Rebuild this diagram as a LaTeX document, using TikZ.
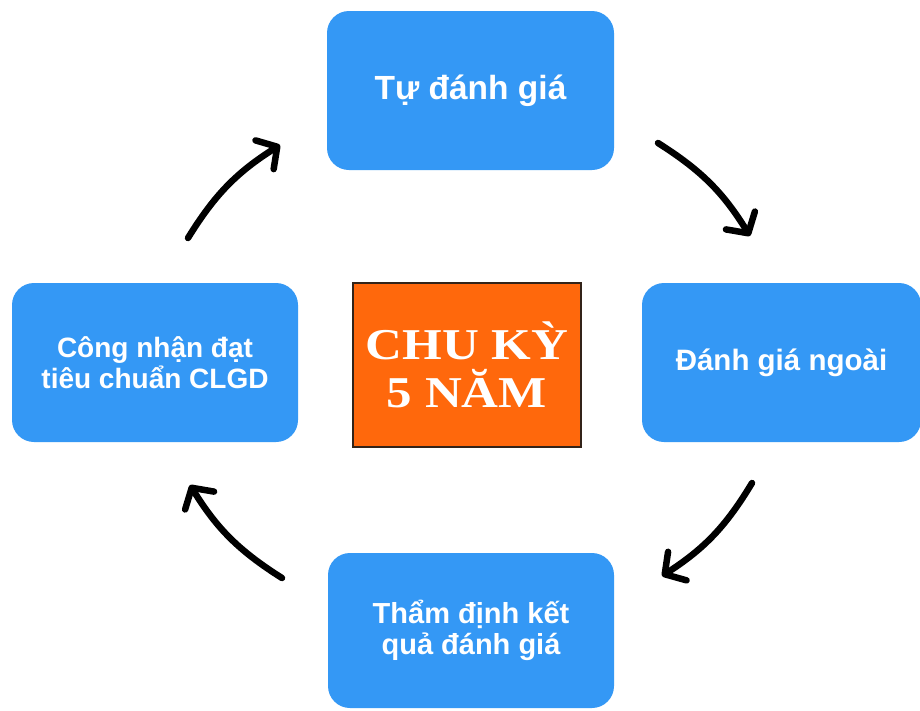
\documentclass[tikz,border=0pt]{standalone}
\usepackage{fontspec}
\setmainfont{Liberation Sans}
\newfontfamily\cycleserif{Liberation Serif}
\usetikzlibrary{arrows.meta}

\definecolor{stepblue}{RGB}{52,152,245}
\definecolor{cycleorange}{RGB}{255,104,12}
\definecolor{cycleedge}{RGB}{50,35,25}

\tikzset{
  stagebox/.style={fill=stepblue, rounded corners=22pt, inner sep=0pt,
    text=white, align=center,
    font=\fontsize{29}{31}\selectfont\bfseries},
  centrebox/.style={fill=cycleorange, draw=cycleedge, line width=1.3pt,
    inner sep=0pt, text=white, align=center,
    font=\cycleserif\fontsize{44}{48}\selectfont\bfseries},
  cyclearrow/.style={line width=6.5pt, line cap=round, line join=round,
    -{Straight Barb[length=15pt, width=34pt, line cap=round, line join=round]},
    bend left=13}
}

\begin{document}
\begin{tikzpicture}[x=1pt, y=-1pt]
  \useasboundingbox (0,0) rectangle (920,710);
  \fill[white] (0,0) rectangle (920,710);

  % the four stages of the cycle
  \node[stagebox, minimum width=287pt, minimum height=159pt,
        font=\fontsize{33.5}{35}\selectfont\bfseries]
    (self) at (470.5,90.5) {Tự đánh giá};
  \node[stagebox, minimum width=279pt, minimum height=159pt,
        font=\fontsize{29.5}{31}\selectfont\bfseries]
    (external) at (781.5,362.5) {Đánh giá ngoài};
  \node[stagebox, minimum width=286pt, minimum height=155pt]
    (review) at (471,630.5) {Thẩm định kết\\quả đánh giá};
  \node[stagebox, minimum width=286pt, minimum height=159pt,
        font=\fontsize{28}{31}\selectfont\bfseries]
    (accredit) at (155,362.5) {Công nhận đạt\\tiêu chuẩn CLGD};

  % centre label
  \node[centrebox, minimum width=228pt, minimum height=164pt]
    (cycle) at (467,365) {\scalebox{1.16}[1]{CHU KỲ}\\\scalebox{1.16}[1]{5 NĂM}};

  % arrow end points between the stages
  \coordinate (a1s) at (658,143);  \coordinate (a1e) at (750,236);
  \coordinate (a2s) at (752,483);  \coordinate (a2e) at (662,576);
  \coordinate (a3s) at (282,578);  \coordinate (a3e) at (190,485);
  \coordinate (a4s) at (188,238);  \coordinate (a4e) at (280,145);

  \draw[cyclearrow] (a1s) to (a1e);
  \draw[cyclearrow] (a2s) to (a2e);
  \draw[cyclearrow] (a3s) to (a3e);
  \draw[cyclearrow] (a4s) to (a4e);
\end{tikzpicture}
\end{document}
